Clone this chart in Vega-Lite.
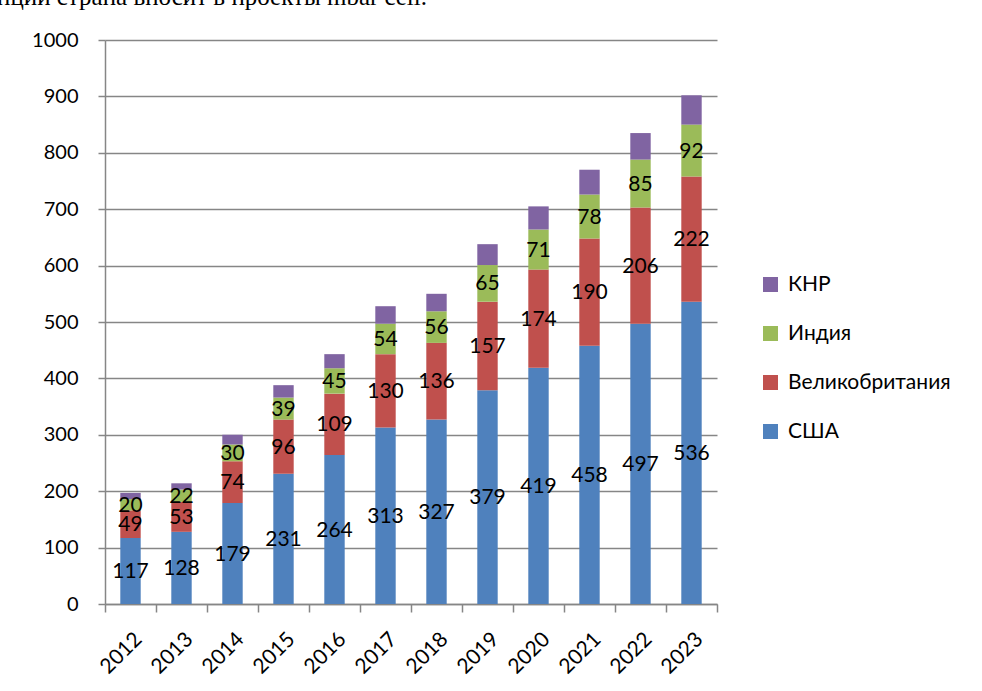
{
  "$schema": "https://vega.github.io/schema/vega-lite/v6.json",
  "width": 612,
  "height": 564,
  "autosize": "none",
  "padding": {"left": 105, "top": 40, "right": 265, "bottom": 87},
  "background": "white",
  "title": {"text": "нции страна вносит в проекты mbar cell.", "anchor": "start", "frame": "group", "orient": "top", "font": "Liberation Serif", "fontSize": 25, "fontWeight": "normal", "color": "black", "baseline": "alphabetic", "offset": 0, "dx": -108, "dy": 0},
  "config": {
    "view": {"stroke": null},
    "font": "Lato",
    "axis": {"labelFont": "Lato", "labelFontSize": 20, "labelColor": "black", "domainColor": "#868686", "tickColor": "#868686", "gridColor": "#868686", "domainWidth": 1.5, "tickWidth": 1.5, "gridWidth": 1.5}
  },
  "data": {"values": [
    {"year": "2012", "country": "США", "value": 117, "ord": 1},
    {"year": "2012", "country": "Великобритания", "value": 49, "ord": 2},
    {"year": "2012", "country": "Индия", "value": 20, "ord": 3},
    {"year": "2012", "country": "КНР", "value": 11, "ord": 4},
    {"year": "2013", "country": "США", "value": 128, "ord": 1},
    {"year": "2013", "country": "Великобритания", "value": 53, "ord": 2},
    {"year": "2013", "country": "Индия", "value": 22, "ord": 3},
    {"year": "2013", "country": "КНР", "value": 11, "ord": 4},
    {"year": "2014", "country": "США", "value": 179, "ord": 1},
    {"year": "2014", "country": "Великобритания", "value": 74, "ord": 2},
    {"year": "2014", "country": "Индия", "value": 30, "ord": 3},
    {"year": "2014", "country": "КНР", "value": 17, "ord": 4},
    {"year": "2015", "country": "США", "value": 231, "ord": 1},
    {"year": "2015", "country": "Великобритания", "value": 96, "ord": 2},
    {"year": "2015", "country": "Индия", "value": 39, "ord": 3},
    {"year": "2015", "country": "КНР", "value": 22, "ord": 4},
    {"year": "2016", "country": "США", "value": 264, "ord": 1},
    {"year": "2016", "country": "Великобритания", "value": 109, "ord": 2},
    {"year": "2016", "country": "Индия", "value": 45, "ord": 3},
    {"year": "2016", "country": "КНР", "value": 25, "ord": 4},
    {"year": "2017", "country": "США", "value": 313, "ord": 1},
    {"year": "2017", "country": "Великобритания", "value": 130, "ord": 2},
    {"year": "2017", "country": "Индия", "value": 54, "ord": 3},
    {"year": "2017", "country": "КНР", "value": 31, "ord": 4},
    {"year": "2018", "country": "США", "value": 327, "ord": 1},
    {"year": "2018", "country": "Великобритания", "value": 136, "ord": 2},
    {"year": "2018", "country": "Индия", "value": 56, "ord": 3},
    {"year": "2018", "country": "КНР", "value": 31, "ord": 4},
    {"year": "2019", "country": "США", "value": 379, "ord": 1},
    {"year": "2019", "country": "Великобритания", "value": 157, "ord": 2},
    {"year": "2019", "country": "Индия", "value": 65, "ord": 3},
    {"year": "2019", "country": "КНР", "value": 37, "ord": 4},
    {"year": "2020", "country": "США", "value": 419, "ord": 1},
    {"year": "2020", "country": "Великобритания", "value": 174, "ord": 2},
    {"year": "2020", "country": "Индия", "value": 71, "ord": 3},
    {"year": "2020", "country": "КНР", "value": 41, "ord": 4},
    {"year": "2021", "country": "США", "value": 458, "ord": 1},
    {"year": "2021", "country": "Великобритания", "value": 190, "ord": 2},
    {"year": "2021", "country": "Индия", "value": 78, "ord": 3},
    {"year": "2021", "country": "КНР", "value": 44, "ord": 4},
    {"year": "2022", "country": "США", "value": 497, "ord": 1},
    {"year": "2022", "country": "Великобритания", "value": 206, "ord": 2},
    {"year": "2022", "country": "Индия", "value": 85, "ord": 3},
    {"year": "2022", "country": "КНР", "value": 47, "ord": 4},
    {"year": "2023", "country": "США", "value": 536, "ord": 1},
    {"year": "2023", "country": "Великобритания", "value": 222, "ord": 2},
    {"year": "2023", "country": "Индия", "value": 92, "ord": 3},
    {"year": "2023", "country": "КНР", "value": 52, "ord": 4}
  ]},
  "transform": [
    {"stack": "value", "groupby": ["year"], "sort": [{"field": "ord", "order": "ascending"}], "as": ["v0", "v1"]},
    {"calculate": "(datum.v0 + datum.v1) / 2", "as": "mid"}
  ],
  "layer": [
    {
      "mark": {"type": "bar", "width": {"band": 0.4}},
      "encoding": {
        "x": {"field": "year", "type": "nominal", "title": null,
          "scale": {"paddingInner": 0, "paddingOuter": 0},
          "axis": {"labelAngle": -45, "tickBand": "extent", "tickSize": 8, "labelPadding": 16, "labelFontSize": 21, "grid": false}},
        "y": {"field": "v0", "type": "quantitative", "title": null,
          "scale": {"domain": [0, 1000], "nice": false},
          "axis": {"values": [0,100,200,300,400,500,600,700,800,900,1000], "format": "d", "tickSize": 7, "labelPadding": 20, "grid": true}},
        "y2": {"field": "v1"},
        "color": {"field": "country", "type": "nominal",
          "scale": {"domain": ["КНР", "Индия", "Великобритания", "США"], "range": ["#8064A2", "#9BBB59", "#C0504D", "#4F81BD"]},
          "legend": {"title": null, "orient": "none", "legendX": 655, "legendY": 234, "symbolType": "square", "symbolSize": 225, "symbolStrokeWidth": 0, "labelFont": "Lato", "labelFontSize": 21, "labelColor": "black", "labelLimit": 320, "rowPadding": 27, "labelOffset": 7}}
      }
    },
    {
      "transform": [{"filter": "datum.country !== 'КНР'"}],
      "mark": {"type": "text", "fontSize": 21, "font": "Lato", "color": "black", "baseline": "middle", "align": "center", "dy": 1},
      "encoding": {
        "x": {"field": "year", "type": "nominal"},
        "y": {"field": "mid", "type": "quantitative"},
        "text": {"field": "value", "type": "quantitative"}
      }
    }
  ]
}
